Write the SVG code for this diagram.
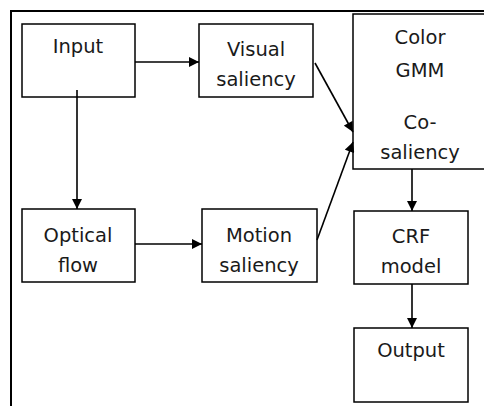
<svg xmlns="http://www.w3.org/2000/svg" width="484" height="406" viewBox="0 0 484 406">
<style>
.box{fill:#fff;stroke:#000;stroke-width:1.5}
.t{font-family:"DejaVu Sans",sans-serif;font-size:19.5px;fill:#1a1a1a;text-anchor:middle}
.c{fill:none;stroke:#000;stroke-width:1.6}
</style>
<defs>
<marker id="ah" viewBox="0 0 10 10" refX="10" refY="5" markerWidth="11" markerHeight="10" markerUnits="userSpaceOnUse" orient="auto">
<path d="M0,0 L10,5 L0,10 z" fill="#000"/>
</marker>
</defs>
<rect width="484" height="406" fill="#fff"/>
<g id="frame"><path d="M11,406 V11 H484" fill="none" stroke="#000" stroke-width="2"/></g>
<g id="input"><rect class="box" x="22" y="24" width="113" height="73"/><text class="t" x="78" y="53">Input</text></g>
<g id="visual"><rect class="box" x="199" y="24" width="114" height="73"/><text class="t" x="256" y="56">Visual</text><text class="t" x="256" y="86">saliency</text></g>
<g id="colorgmm"><rect class="box" x="353" y="14" width="136" height="155"/><text class="t" x="420" y="44">Color</text><text class="t" x="420" y="77">GMM</text><text class="t" x="420" y="129">Co-</text><text class="t" x="420" y="159">saliency</text></g>
<g id="optical"><rect class="box" x="22" y="209" width="113" height="73"/><text class="t" x="78" y="242">Optical</text><text class="t" x="78" y="272">flow</text></g>
<g id="motion"><rect class="box" x="202" y="209" width="115" height="73"/><text class="t" x="259" y="242">Motion</text><text class="t" x="259" y="272">saliency</text></g>
<g id="crf"><rect class="box" x="354" y="211" width="114" height="73"/><text class="t" x="411" y="243">CRF</text><text class="t" x="411" y="273">model</text></g>
<g id="output"><rect class="box" x="354" y="328" width="114" height="74"/><text class="t" x="411" y="357">Output</text></g>
<g id="connectors">
<path class="c" d="M135,62 H199" marker-end="url(#ah)"/>
<path class="c" d="M77,90 V209" marker-end="url(#ah)"/>
<path class="c" d="M135,244 H202" marker-end="url(#ah)"/>
<path class="c" d="M315,63 L353,132" marker-end="url(#ah)"/>
<path class="c" d="M317,240 L353,142" marker-end="url(#ah)"/>
<path class="c" d="M412,169 V211" marker-end="url(#ah)"/>
<path class="c" d="M412,284 V328" marker-end="url(#ah)"/>
</g>
</svg>
